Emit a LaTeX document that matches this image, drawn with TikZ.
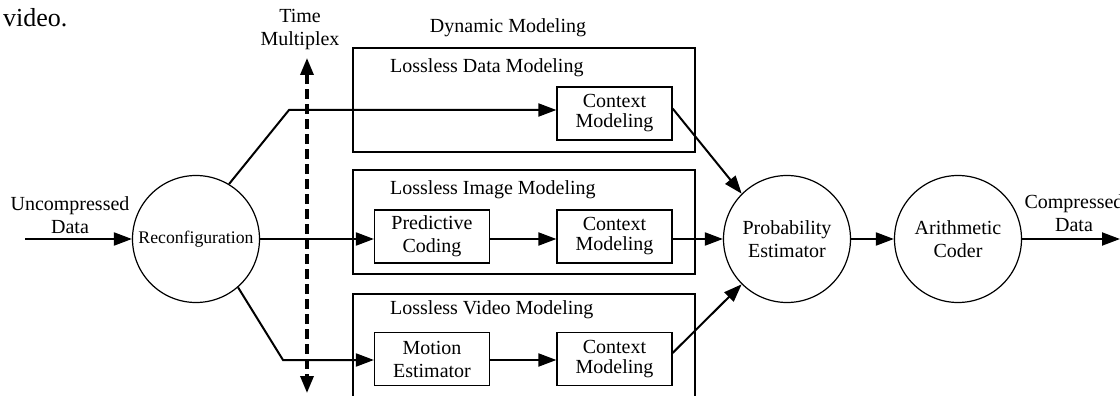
\documentclass[tikz,border=0pt]{standalone}
\usepackage{fontspec}
\setmainfont{Liberation Serif}
\usetikzlibrary{arrows.meta,calc}
\begin{document}
\begin{tikzpicture}[x=1pt,y=-1pt,
  txt/.style={font=\fontsize{20}{23}\selectfont, align=center, inner sep=0pt},
  ctxtxt/.style={font=\fontsize{20}{20}\selectfont, align=center, inner sep=0pt},
  outerbox/.style={draw, line width=2.6pt},
  innerbox/.style={draw, line width=1.2pt, minimum width=115pt, minimum height=53pt, inner sep=0pt, align=center},
  proc/.style={draw, circle, line width=1.2pt, minimum size=127pt, inner sep=0pt, align=center, font=\fontsize{20}{23}\selectfont},
  conn/.style={line width=2pt, -{Triangle[length=18pt,width=13pt]}},
  plain/.style={line width=2pt},
  tm/.style={line width=3.3pt, dash pattern=on 10pt off 5pt, {Triangle[length=17pt,width=13pt]}-{Triangle[length=17pt,width=13pt]}}
]
\useasboundingbox (0,0) rectangle (1120,396);

% caption fragment
\node[anchor=west, inner sep=0pt, font=\fontsize{26}{30}\selectfont] (cap) at (3,18) {video.};

% outer boxes
\draw[outerbox] (353,48) rectangle (695,152);
\draw[outerbox] (353,170) rectangle (695,274);
\draw[outerbox] (353,294) rectangle (695,430);

\node[txt] (dyn) at (508,28) {Dynamic Modeling};
\node[txt, anchor=west] (ldm) at (390,68) {Lossless Data Modeling};
\node[txt, anchor=west] (lim) at (390,190) {Lossless Image Modeling};
\node[txt, anchor=west] (lvm) at (390,310) {Lossless Video Modeling};

% inner boxes
\node[innerbox, font=\fontsize{20}{20}\selectfont] (ctxD) at (614.5,113.5) {Context\\Modeling};
\node[innerbox, font=\fontsize{20}{23}\selectfont] (pred) at (432,236.5) {Predictive\\Coding};
\node[innerbox, font=\fontsize{20}{20}\selectfont] (ctxI) at (614.5,236.5) {Context\\Modeling};
\node[innerbox, font=\fontsize{20}{23}\selectfont] (mot) at (432,359) {Motion\\Estimator};
\node[innerbox, font=\fontsize{20}{20}\selectfont] (ctxV) at (614.5,359) {Context\\Modeling};

% circles
\node[proc, font=\fontsize{17.7}{20}\selectfont] (recon) at (196,239) {Reconfiguration};
\node[proc] (prob) at (787,239) {Probability\\Estimator};
\node[proc] (arith) at (958,239) {Arithmetic\\Coder};

% side labels
\node[txt] (unc) at (70,215) {Uncompressed\\Data};
\node[txt] (cmp) at (1074,213) {Compressed\\Data};
\node[txt] (tmx) at (300,30) {Time\\Multiplex};

% coordinates
\coordinate (inS) at (25,239);
\coordinate (outE) at (1120,239);
\coordinate (k1) at (289,110);
\coordinate (k2) at (283,360);
\coordinate (tmTop) at (307,58);
\coordinate (tmBot) at (307,393);

% time multiplex dashed arrow
\draw[tm] (tmTop) -- (tmBot);

% connectors
\draw[conn] (inS) -- (recon.west);
\draw[conn] (recon.59) -- (k1) -- (k1 -| ctxD.west);
\draw[conn] (recon.east) -- (recon.east -| pred.west);
\draw[conn] (recon.-49) -- (k2) -- (k2 -| mot.west);
\draw[conn] (pred.east |- 0,239) -- (ctxI.west |- 0,239);
\draw[conn] (mot.east |- 0,360) -- (ctxV.west |- 0,360);
\draw[conn] (ctxI.east |- 0,239) -- (prob.west);
\draw[conn] ($(ctxD.east)+(0,-5)$) -- (prob.135);
\draw[conn] ($(ctxV.east)+(0,-6)$) -- (prob.225);
\draw[conn] (prob.east) -- (arith.west);
\draw[conn] (arith.east) -- (outE);
\end{tikzpicture}
\end{document}
